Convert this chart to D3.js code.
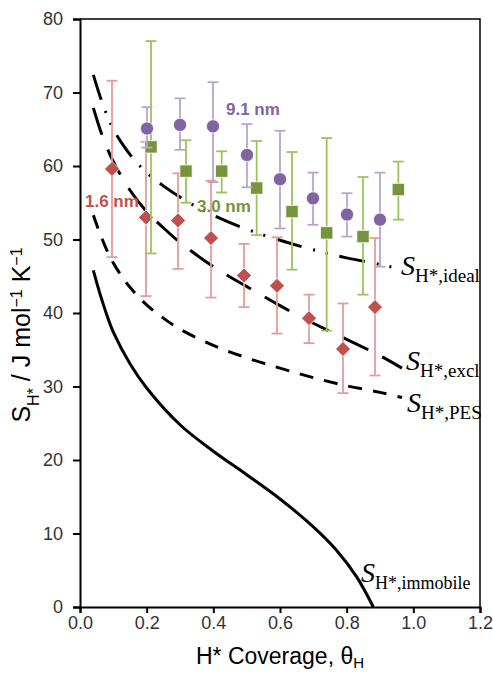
<!DOCTYPE html>
<meta charset="utf-8">
<style>
body { margin: 0; background: #fff; }
.axis text { font: 18px Arial, "Liberation Sans", sans-serif; fill: #333; }
.axis path, .axis line { stroke: #000; stroke-width: 2px; }
.title { font: 23px Arial, "Liberation Sans", sans-serif; fill: #000; }
.curve { fill: none; stroke: #000; stroke-width: 3px; }
.clabel { font-family: "Liberation Serif", "DejaVu Serif", serif; fill: #000; }
.nm { font: bold 17px Arial, "Liberation Sans", sans-serif; }
</style>
<body>
<script src="https://d3js.org/d3.v7.min.js"></script>
<script>

// ---- data ----
// 1.6 nm (red diamonds)
var theta16 = [0.096, 0.198, 0.294, 0.393, 0.492, 0.591, 0.687, 0.789, 0.885];
var s16     = [59.6, 53.0, 52.6, 50.2, 45.1, 43.7, 39.3, 35.1, 40.8];
var s16Hi   = [71.6, 63.3, 59.0, 58.0, 49.4, 50.3, 42.5, 41.3, 50.2];
var s16Lo   = [47.6, 42.3, 46.0, 42.1, 40.8, 37.2, 35.9, 29.1, 31.5];

// 9.1 nm (purple circles)
var theta91 = [0.201, 0.300, 0.399, 0.501, 0.600, 0.699, 0.801, 0.900];
var s91     = [65.1, 65.6, 65.4, 61.5, 58.2, 55.6, 53.4, 52.7];
var s91Hi   = [68.0, 69.2, 71.4, 65.7, 64.8, 59.1, 56.3, 59.1];
var s91Lo   = [62.5, 62.2, 57.8, 57.1, 51.5, 52.0, 50.4, 46.3];

// 3.0 nm (green squares)
var theta30 = [0.213, 0.318, 0.425, 0.530, 0.636, 0.740, 0.849, 0.955];
var s30     = [62.6, 59.3, 59.3, 57.0, 53.8, 50.9, 50.4, 56.8];
var s30Hi   = [77.0, 63.5, 62.0, 63.4, 61.9, 63.8, 58.5, 60.6];
var s30Lo   = [48.1, 55.0, 56.4, 50.6, 45.9, 37.6, 42.5, 52.7];

// model curves
var idealTheta = [0.04, 0.06, 0.08, 0.1, 0.13, 0.16, 0.2, 0.25, 0.32, 0.4, 0.5, 0.6, 0.7, 0.8, 0.9, 0.94];
var idealS     = [72.4, 69.5, 67.0, 65.0, 62.8, 61.0, 59.1, 57.3, 55.2, 53.3, 51.4, 49.9, 48.6, 47.5, 46.6, 46.2];
var exclTheta  = [0.04, 0.06, 0.08, 0.1, 0.15, 0.2, 0.25, 0.3, 0.4, 0.5, 0.6, 0.7, 0.8, 0.9, 0.966];
var exclS      = [67.9, 65.0, 62.6, 60.6, 56.7, 53.8, 51.6, 49.6, 46.3, 43.6, 41.0, 38.6, 36.4, 34.2, 32.5];
var pesTheta   = [0.04, 0.06, 0.08, 0.1, 0.125, 0.15, 0.2, 0.25, 0.3, 0.4, 0.5, 0.6, 0.7, 0.8, 0.9, 0.966];
var pesS       = [53.3, 50.8, 48.6, 46.8, 45.0, 43.5, 41.1, 39.3, 37.8, 35.6, 33.9, 32.5, 31.2, 30.1, 29.2, 28.5];
var immTheta   = [0.04, 0.06, 0.08, 0.1, 0.15, 0.2, 0.3, 0.4, 0.5, 0.6, 0.7, 0.77, 0.83, 0.88];
var immS       = [45.8, 42.6, 39.8, 37.4, 33.1, 29.8, 24.8, 21.2, 18.0, 14.7, 10.9, 7.7, 4.1, 0.0];

var xTicks = [0, 0.2, 0.4, 0.6, 0.8, 1.0, 1.2];
var yTicks = [0, 10, 20, 30, 40, 50, 60, 70, 80];

// ---- layout ----
var margin = {top: 19, right: 13, bottom: 66, left: 80},
    width = 493 - margin.left - margin.right,
    height = 673 - margin.top - margin.bottom;

var x = d3.scaleLinear().domain([0, 1.2]).range([0, width]);
var y = d3.scaleLinear().domain([0, 80]).range([height, 0]);

var svg = d3.select("body").append("svg")
    .attr("width", 493)
    .attr("height", 673)
  .append("g")
    .attr("transform", "translate(" + margin.left + "," + margin.top + ")");

// frame (top and right)
svg.append("path")
    .attr("d", "M0,0H" + width + "V" + height)
    .attr("fill", "none")
    .attr("stroke", "#000")
    .attr("stroke-width", 1.5);

// axes
svg.append("g")
    .attr("class", "axis")
    .attr("transform", "translate(0," + height + ")")
    .call(d3.axisBottom(x).tickValues(xTicks).tickSize(6).tickPadding(3)
        .tickFormat(d3.format(".1f")));

svg.append("g")
    .attr("class", "axis")
    .call(d3.axisLeft(y).tickValues(yTicks).tickSize(7).tickPadding(10));

// axis titles
var xt = svg.append("text")
    .attr("class", "title")
    .attr("x", width / 2)
    .attr("y", height + 57)
    .attr("text-anchor", "middle");
xt.append("tspan").text("H* Coverage, θ");
xt.append("tspan").attr("dy", 4).attr("font-size", "15px").text("H");

var yt = svg.append("text")
    .attr("class", "title")
    .attr("transform", "translate(-50," + (height / 2 + 22) + ") rotate(-90)")
    .attr("text-anchor", "middle")
    .style("font-size", "25px");
yt.append("tspan").text("S");
yt.append("tspan").attr("baseline-shift", "sub").attr("font-size", "16px").text("H*");
yt.append("tspan").text(" / J mol");
yt.append("tspan").attr("baseline-shift", "super").attr("font-size", "16px").text("−1");
yt.append("tspan").text(" K");
yt.append("tspan").attr("baseline-shift", "super").attr("font-size", "16px").text("−1");

// model curves
var line = d3.line()
    .curve(d3.curveCatmullRom.alpha(0.5))
    .x(function(d) { return x(d[0]); })
    .y(function(d) { return y(d[1]); });

function pairs(a, b) { return a.map(function(v, i) { return [v, b[i]]; }); }

svg.append("path").attr("class", "curve")
    .attr("d", line(pairs(idealTheta, idealS)))
    .attr("stroke-dasharray", "26,12,2,11,2,12");
svg.append("path").attr("class", "curve")
    .attr("d", line(pairs(exclTheta, exclS)))
    .attr("stroke-dasharray", "28,16");
svg.append("path").attr("class", "curve")
    .attr("d", line(pairs(pesTheta, pesS)))
    .attr("stroke-dasharray", "14,11");
svg.append("path").attr("class", "curve")
    .attr("d", line(pairs(immTheta, immS)));

// curve labels
function curveLabel(tx, ty, sub, subSize) {
  var t = svg.append("text").attr("class", "clabel")
      .attr("x", x(tx)).attr("y", y(ty));
  t.append("tspan").attr("font-style", "italic").attr("font-size", "28px").text("S");
  t.append("tspan").attr("dy", 7).attr("font-size", subSize + "px").text(sub);
}
curveLabel(0.963, 45.2, "H*,ideal", 19);
curveLabel(0.978, 32.3, "H*,excl", 19);
curveLabel(0.981, 26.5, "H*,PES", 19);
curveLabel(0.843, 3.4, "H*,immobile", 18);

// error bars + markers
function series(th, s, lo, hi, barColor, color, shape) {
  var g = svg.append("g");
  var data = th.map(function(v, i) { return {t: v, s: s[i], lo: lo[i], hi: hi[i]}; });
  var eb = g.selectAll(".eb").data(data).enter().append("g")
      .attr("stroke", barColor).attr("stroke-width", 1.8);
  eb.append("line")
      .attr("x1", function(d) { return x(d.t); }).attr("x2", function(d) { return x(d.t); })
      .attr("y1", function(d) { return y(d.lo); }).attr("y2", function(d) { return y(d.hi); });
  eb.append("line")
      .attr("x1", function(d) { return x(d.t) - 5.5; }).attr("x2", function(d) { return x(d.t) + 5.5; })
      .attr("y1", function(d) { return y(d.hi); }).attr("y2", function(d) { return y(d.hi); });
  eb.append("line")
      .attr("x1", function(d) { return x(d.t) - 5.5; }).attr("x2", function(d) { return x(d.t) + 5.5; })
      .attr("y1", function(d) { return y(d.lo); }).attr("y2", function(d) { return y(d.lo); });
  g.selectAll(".mk").data(data).enter().append("path")
      .attr("transform", function(d) { return "translate(" + x(d.t) + "," + y(d.s) + ")"; })
      .attr("d", shape)
      .attr("fill", color)
      .attr("stroke", "#fff")
      .attr("stroke-width", 0.8);
}
var diamond = "M0,-7.5L7.5,0L0,7.5L-7.5,0Z";
var square = "M-6.2,-6.2H6.2V6.2H-6.2Z";
var circle = d3.symbol().type(d3.symbolCircle).size(Math.PI * 6.6 * 6.6)();

series(theta16, s16, s16Lo, s16Hi, "#E59C9B", "#C0504D", diamond);
series(theta30, s30, s30Lo, s30Hi, "#9BC45A", "#77933C", square);
series(theta91, s91, s91Lo, s91Hi, "#B7A5D0", "#8064A2", circle);

// series labels
var nmLabels = [
  {text: "1.6 nm", t: 0.015, s: 54.4, color: "#C0504D"},
  {text: "3.0 nm", t: 0.351, s: 53.7, color: "#77933C"},
  {text: "9.1 nm", t: 0.438, s: 66.9, color: "#8064A2"}
];
svg.selectAll(".nm").data(nmLabels).enter().append("text")
    .attr("class", "nm")
    .attr("x", function(d) { return x(d.t); })
    .attr("y", function(d) { return y(d.s); })
    .attr("fill", function(d) { return d.color; })
    .text(function(d) { return d.text; });

</script>
</body>
